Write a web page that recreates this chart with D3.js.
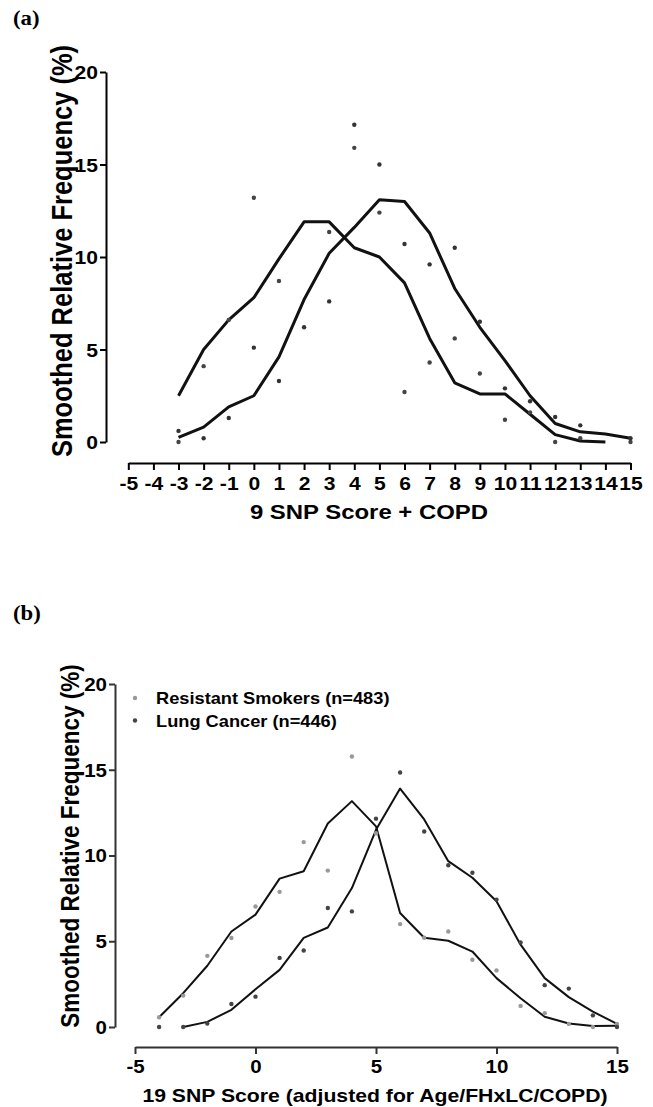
<!DOCTYPE html>
<html>
<head>
<meta charset="utf-8">
<script src="https://cdn.jsdelivr.net/npm/d3@7"></script>
<style>
  body { margin: 0; background: #fff; }
  svg { display: block; }
</style>
</head>
<body>
<div id="chart"></div>
<script>
// panel (a): 9 SNP score + COPD
const scoreA = [-3, -2, -1, 0, 1, 2, 3, 4, 5, 6, 7, 8, 9, 10, 11, 12, 13, 14, 15];
const smoothA_resistant = [2.5, 5.0, 6.6, 7.8, 9.9, 11.9, 11.9, 10.5, 10.0, 8.6, 5.6, 3.2, 2.6, 2.6, 1.5, 0.4, 0.05, 0.0, null];
const smoothA_cancer = [0.25, 0.8, 1.9, 2.5, 4.6, 7.7, 10.2, 11.6, 13.1, 13.0, 11.3, 8.3, 6.2, 4.4, 2.5, 1.0, 0.55, 0.43, 0.2];
const rawA_resistant = [0.0, 4.1, 6.6, 13.2, 8.7, null, 11.35, 15.9, 12.4, 2.7, 4.3, 5.6, 3.7, 1.2, 1.6, 0.0, 0.2, null, 0.0];
const rawA_cancer = [0.6, 0.2, 1.3, 5.1, 3.3, 6.2, 7.6, 17.15, 15.0, 10.7, 9.6, 10.5, 6.5, 2.9, 2.2, 1.35, 0.9, null, 0.2];
const ticksA_x = [-5, -4, -3, -2, -1, 0, 1, 2, 3, 4, 5, 6, 7, 8, 9, 10, 11, 12, 13, 14, 15];

// panel (b): 19 SNP score adjusted
const scoreB = [-4, -3, -2, -1, 0, 1, 2, 3, 4, 5, 6, 7, 8, 9, 10, 11, 12, 13, 14, 15];
const smoothB_resistant = [0.57, 1.97, 3.57, 5.57, 6.55, 8.65, 9.08, 11.87, 13.17, 11.7, 6.65, 5.2, 5.03, 4.4, 2.85, 1.68, 0.6, 0.2, 0.06, 0.08];
const smoothB_cancer = [null, 0.0, 0.3, 1.0, 2.2, 3.33, 5.2, 5.8, 8.1, 11.5, 13.9, 12.1, 9.67, 8.7, 7.33, 4.8, 2.85, 1.74, 0.9, 0.18];
const rawB_resistant = [0.57, 1.83, 4.15, 5.19, 7.03, 7.88, 10.78, 9.12, 15.77, 11.3, 6.0, 5.2, 5.57, 3.92, 3.3, 1.23, 0.8, 0.18, 0.0, 0.18];
const rawB_cancer = [0.0, 0.0, 0.2, 1.34, 1.77, 4.03, 4.46, 6.94, 6.74, 12.15, 14.84, 11.4, 9.43, 8.99, 7.43, 4.93, 2.44, 2.24, 0.68, 0.0];
const ticksB_x = [-5, 0, 5, 10, 15];

const ticksY = [0, 5, 10, 15, 20];
const legendLabels = ["Resistant Smokers (n=483)", "Lung Cancer (n=446)"];

const width = 653;
const height = 1107;
const sx = 1.14; // the figure is a bit wider than tall in its glyphs
const sans = "'Liberation Sans', Arial, sans-serif";
const serif = "'Liberation Serif', 'Times New Roman', serif";

const svg = d3.select('#chart')
    .append('svg')
    .attr('width', width)
    .attr('height', height);

function drawPanel(p) {
  const x = d3.scaleLinear().domain([-5, 15]).range([p.x0, p.x1]);
  const y = d3.scaleLinear().domain([0, 20]).range([p.y0, p.y1]);
  const g = svg.append('g');

  // panel letter
  g.append('text')
    .attr('transform', 'translate(13,' + p.letterY + ') scale(' + sx + ',1)')
    .style('font-family', serif)
    .style('font-weight', 'bold')
    .style('font-size', '20px')
    .text(p.letter);

  // plain hyphen for negatives, like the original
  const fmt = function(d) { return String(d); };

  // y axis
  const yAxis = g.append('g')
    .attr('transform', 'translate(' + p.axisX + ',0)')
    .call(d3.axisLeft(y).tickValues(ticksY).tickFormat(fmt).tickSize(6).tickSizeOuter(0));
  // x axis
  const xAxis = g.append('g')
    .attr('transform', 'translate(0,' + p.axisY + ')')
    .call(d3.axisBottom(x).tickValues(p.xticks).tickFormat(fmt).tickSize(7).tickSizeOuter(0));

  [yAxis, xAxis].forEach(function(a) {
    a.selectAll('path, line')
      .attr('stroke', p.axisColor)
      .attr('stroke-width', 2);
    a.selectAll('text')
      .attr('fill', '#000')
      .style('font-family', sans)
      .style('font-weight', 'bold')
      .style('font-size', p.tickFont + 'px');
  });
  yAxis.selectAll('text')
    .attr('x', -8 / sx)
    .attr('dy', '0.36em')
    .attr('transform', 'scale(' + sx + ',1)');
  xAxis.selectAll('text')
    .attr('y', p.tickLabelOffset)
    .attr('dy', 0)
    .attr('transform', 'scale(' + sx + ',1)');

  // axis titles
  g.append('text')
    .attr('transform', 'translate(' + p.yLabelX + ',' + p.yLabelY + ') scale(' + sx + ',1) rotate(-90)')
    .attr('text-anchor', 'middle')
    .style('font-family', sans)
    .style('font-weight', 'bold')
    .style('font-size', p.yLabelFont + 'px')
    .text('Smoothed Relative Frequency (%)');

  g.append('text')
    .attr('transform', 'translate(' + p.xLabelX + ',' + p.xLabelY + ') scale(' + sx + ',1)')
    .attr('text-anchor', 'middle')
    .style('font-family', sans)
    .style('font-weight', 'bold')
    .style('font-size', p.xLabelFont + 'px')
    .text(p.xLabel);

  // smoothed curves
  const line = d3.line()
    .defined(function(d) { return d[1] != null; })
    .x(function(d) { return x(d[0]); })
    .y(function(d) { return y(d[1]); });

  p.series.forEach(function(s) {
    const pts = p.scores.map(function(v, i) { return [v, s.smooth[i]]; });
    g.append('path')
      .datum(pts)
      .attr('d', line)
      .attr('fill', 'none')
      .attr('stroke', '#111')
      .attr('stroke-width', p.lineWidth)
      .attr('stroke-linejoin', 'round');
  });

  // raw points
  p.series.forEach(function(s) {
    const pts = p.scores.map(function(v, i) { return [v, s.raw[i]]; })
      .filter(function(d) { return d[1] != null; });
    g.selectAll(null)
      .data(pts)
      .enter()
      .append('circle')
      .attr('cx', function(d) { return x(d[0]); })
      .attr('cy', function(d) { return y(d[1]); })
      .attr('r', p.dotR)
      .attr('fill', s.dot);
  });

  // legend
  if (p.legend) {
    p.series.forEach(function(s, i) {
      const ly = p.legendY + i * 22.5;
      g.append('circle')
        .attr('cx', 135)
        .attr('cy', ly)
        .attr('r', p.dotR)
        .attr('fill', s.dot);
      g.append('text')
        .attr('transform', 'translate(156,' + (ly + 6) + ') scale(' + sx + ',1)')
        .style('font-family', sans)
        .style('font-weight', 'bold')
        .style('font-size', '16px')
        .text(legendLabels[i]);
    });
  }
}

drawPanel({
  letter: '(a)', letterY: 25,
  x0: 128.3, x1: 630.5, y0: 442, y1: 72,
  axisX: 106, axisY: 463, axisColor: '#000',
  xticks: ticksA_x, tickFont: 18.5, tickLabelOffset: 27,
  yLabelX: 72, yLabelY: 251, yLabelFont: 25.5,
  xLabel: '9 SNP Score + COPD', xLabelX: 369, xLabelY: 519, xLabelFont: 21,
  scores: scoreA, lineWidth: 3, dotR: 2.2,
  series: [
    { smooth: smoothA_resistant, raw: rawA_resistant, dot: '#444' },
    { smooth: smoothA_cancer, raw: rawA_cancer, dot: '#333' }
  ],
  legend: false
});

drawPanel({
  letter: '(b)', letterY: 620,
  x0: 135, x1: 617, y0: 1027, y1: 684,
  axisX: 115, axisY: 1047, axisColor: '#333',
  xticks: ticksB_x, tickFont: 18, tickLabelOffset: 26,
  yLabelX: 79, yLabelY: 846, yLabelFont: 22.5,
  xLabel: '19 SNP Score (adjusted for Age/FHxLC/COPD)', xLabelX: 375, xLabelY: 1102, xLabelFont: 18.6,
  scores: scoreB, lineWidth: 2, dotR: 2.2,
  series: [
    { smooth: smoothB_resistant, raw: rawB_resistant, dot: '#999' },
    { smooth: smoothB_cancer, raw: rawB_cancer, dot: '#444' }
  ],
  legend: true, legendY: 698
});
</script>
</body>
</html>
